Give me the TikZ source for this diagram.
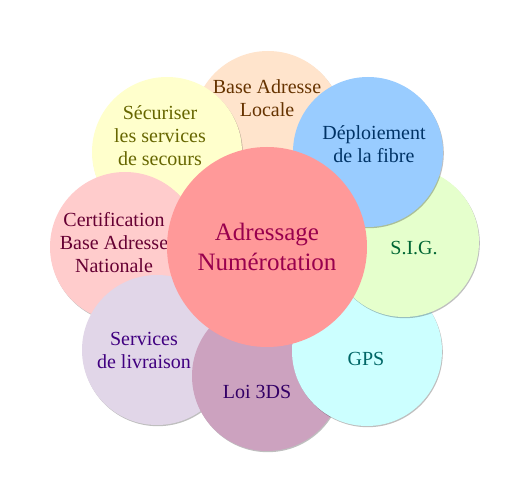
\documentclass[tikz,border=0pt]{standalone}
\usepackage{fontspec}
\setmainfont{Liberation Serif}
\usetikzlibrary{shadows}
\definecolor{cBase}{HTML}{FFE4CC}\definecolor{tBase}{HTML}{663300}
\definecolor{cSec}{HTML}{FFFFCC}\definecolor{tSec}{HTML}{666600}
\definecolor{cCert}{HTML}{FFCCCC}\definecolor{tCert}{HTML}{660033}
\definecolor{cServ}{HTML}{E1D6E8}\definecolor{tServ}{HTML}{400080}
\definecolor{cLoi}{HTML}{CCA2BF}\definecolor{tLoi}{HTML}{330066}
\definecolor{cGps}{HTML}{CCFFFF}\definecolor{tGps}{HTML}{006666}
\definecolor{cSig}{HTML}{E5FFCC}\definecolor{tSig}{HTML}{006633}
\definecolor{cDep}{HTML}{99CCFF}\definecolor{tDep}{HTML}{003366}
\definecolor{cCen}{HTML}{FF9999}\definecolor{tCen}{HTML}{99004D}
\tikzset{
  petal/.style={circle, minimum size=150pt, inner sep=0pt, draw=none,
    drop shadow={shadow xshift=0.8pt, shadow yshift=-1.2pt, fill=black, opacity=0.25}},
  ptext/.style={align=center, inner sep=0pt, font=\fontsize{20pt}{23pt}\selectfont},
  ctext/.style={align=center, inner sep=0pt, font=\fontsize{25pt}{30pt}\selectfont}
}
\begin{document}
\begin{tikzpicture}[x=1pt,y=-1pt]
\useasboundingbox[fill=white] (0,0) rectangle (530,502);
\node[petal, fill=cBase] (base) at (268,126) {};
\node[ptext, text=tBase] (tbase) at (267,98) {Base Adresse\\Locale};
\node[petal, fill=cSec] (sec) at (167,152) {};
\node[ptext, text=tSec] (tsec) at (160,136) {Sécuriser\\les services\\de secours};
\node[petal, fill=cCert] (cert) at (125,247) {};
\node[ptext, text=tCert] (tcert) at (114,243) {Certification\\Base Adresse\\Nationale};
\node[petal, fill=cServ] (serv) at (157,350) {};
\node[ptext, text=tServ] (tserv) at (144,350) {Services\\de livraison};
\node[petal, fill=cLoi] (loi) at (267,376) {};
\node[ptext, text=tLoi] (tloi) at (257,392) {Loi 3DS};
\node[petal, fill=cGps] (gps) at (367,351) {};
\node[ptext, text=tGps] (tgps) at (366,359) {GPS};
\node[petal, fill=cSig] (sig) at (404,242) {};
\node[ptext, text=tSig] (tsig) at (414,248) {S.I.G.};
\node[petal, fill=cDep] (dep) at (368,152) {};
\node[ptext, text=tDep] (tdep) at (374,144) {Déploiement\\de la fibre};
\node[circle, minimum size=200pt, inner sep=0pt, fill=cCen] (cen) at (267,247) {};
\node[ctext, text=tCen] (tcen) at (267,247) {Adressage\\Numérotation};
\end{tikzpicture}
\end{document}
